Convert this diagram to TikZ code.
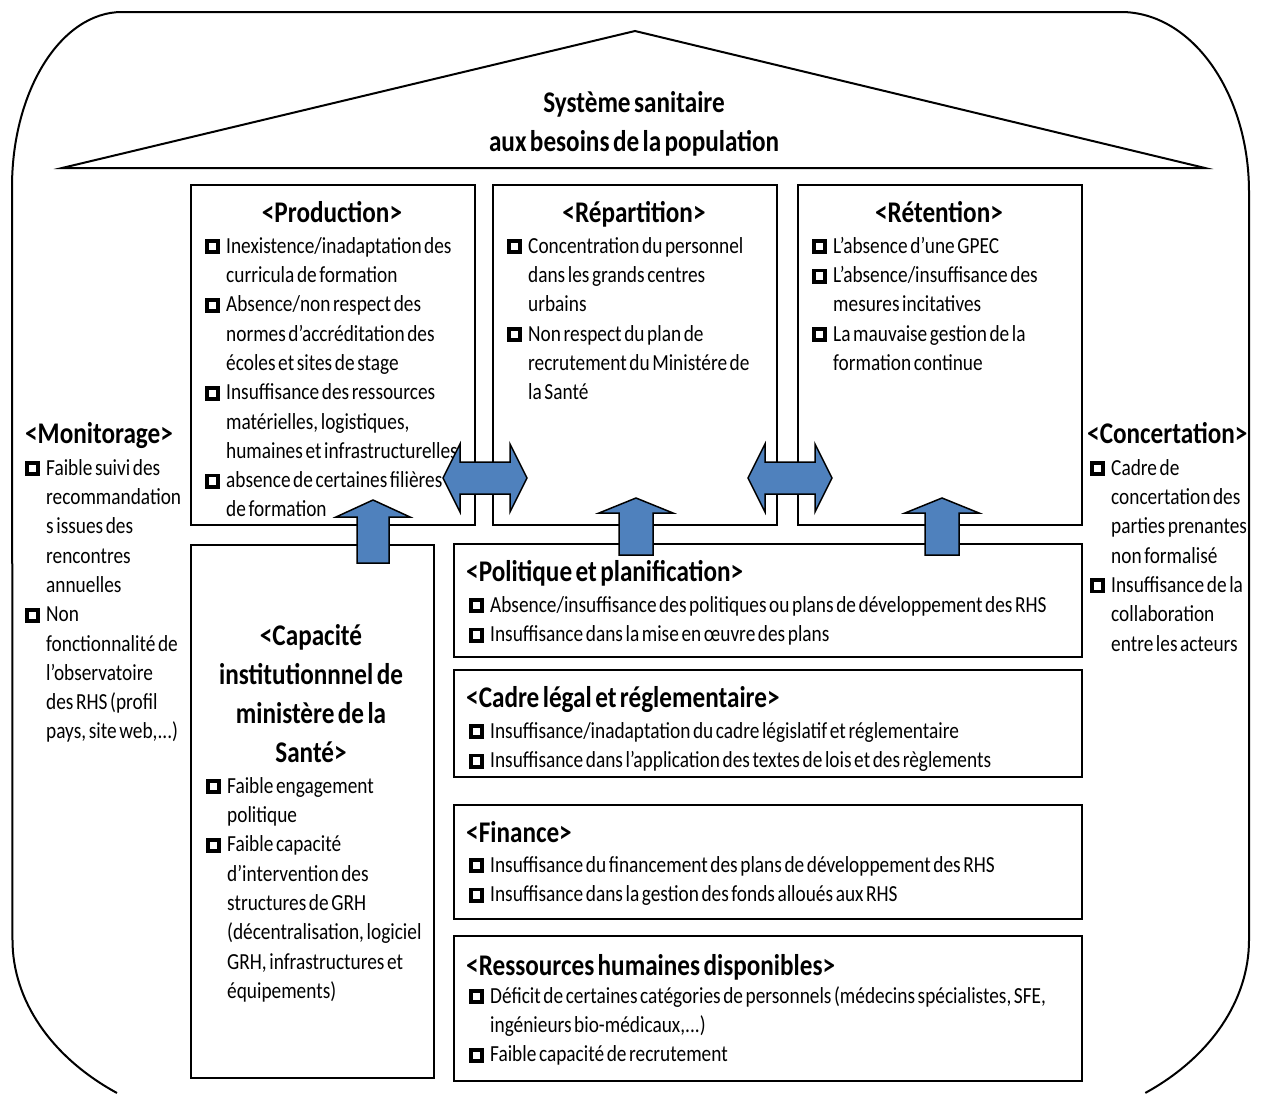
\documentclass[tikz,border=0pt]{standalone}
\usepackage{fontspec}
\setmainfont{Carlito}[FakeStretch=0.84, WordSpace=0.6]
\definecolor{arrowblue}{HTML}{4F81BD}
\newcommand\bodyfont{\fontsize{23}{29.3}\selectfont}
\newcommand\headfont{\bfseries\fontsize{30}{39}\selectfont}
\newcommand\cbx{\makebox[21pt][l]{\raisebox{-1pt}{\rlap{\rule{15pt}{15pt}}\hspace*{3.8pt}\raisebox{3.8pt}{\textcolor{white}{\rule{7.4pt}{7.4pt}}}}}}
\newcommand\ind{\hspace*{21pt}}
\newcommand\fst{\rule{0pt}{20pt}}
\newcommand\hst{\rule{0pt}{28pt}}
\begin{document}
\begin{tikzpicture}[x=1pt,y=-1pt,
  box/.style={draw, line width=1.8pt, fill=white, inner sep=0, anchor=north west},
  body/.style={inner sep=0, anchor=north west, align=left, font=\bodyfont},
  head/.style={inner sep=0, font=\headfont},
  barrow/.style={draw=black, line width=1.5pt, fill=arrowblue, line join=miter}]
\useasboundingbox (0,0) rectangle (1261,1093);
% outer frame
\draw[line width=2pt] (117,1093) arc[start angle=126.4, end angle=180, x radius=257, y radius=190]
  -- (12,187) arc[start angle=180, end angle=270, x radius=110, y radius=175]
  -- (1121,12) arc[start angle=270, end angle=360, x radius=128, y radius=180]
  -- (1249,940) arc[start angle=0, end angle=53.6, x radius=255, y radius=190];
% roof
\draw[line width=2pt, line join=miter] (62,168) -- (635,31) -- (1205,168) -- cycle;
\node[head, anchor=north, align=center] (roof) at (634,84.5) {\hst Système sanitaire\\aux besoins de la population};
% boxes
\node[box, minimum width=284, minimum height=340] (prod) at (190,184) {};
\node[box, minimum width=284, minimum height=340] (rep) at (492,184) {};
\node[box, minimum width=284, minimum height=340] (ret) at (797,184) {};
\node[box, minimum width=243, minimum height=533] (cap) at (190,544) {};
\node[box, minimum width=628, minimum height=113] (pol) at (453,543) {};
\node[box, minimum width=628, minimum height=107] (cad) at (453,669) {};
\node[box, minimum width=628, minimum height=114] (fin) at (453,804) {};
\node[box, minimum width=628, minimum height=145] (rh) at (453,935) {};
% Production
\node[head, anchor=base] (prodT) at (332,222) {<Production>};
\node[body] (prodB) at (205,233) {\fst\cbx Inexistence/inadaptation des\\
\ind curricula de formation\\
\cbx Absence/non respect des\\
\ind normes d’accréditation des\\
\ind écoles et sites de stage\\
\cbx Insuffisance des ressources\\
\ind matérielles, logistiques,\\
\ind humaines et infrastructurelles\\
\cbx absence de certaines filières\\
\ind de formation};
% Repartition
\node[head, anchor=base] (repT) at (634,222) {<Répartition>};
\node[body] (repB) at (507,233) {\fst\cbx Concentration du personnel\\
\ind dans les grands centres\\
\ind urbains\\
\cbx Non respect du plan de\\
\ind recrutement du Ministére de\\
\ind la Santé};
% Retention
\node[head, anchor=base] (retT) at (939,222) {<Rétention>};
\node[body] (retB) at (812,233) {\fst\cbx L’absence d’une GPEC\\
\cbx L’absence/insuffisance des\\
\ind mesures incitatives\\
\cbx La mauvaise gestion de la\\
\ind formation continue};
% Monitorage
\node[head, anchor=base west] (monT) at (25,443) {<Monitorage>};
\node[body] (monB) at (25,455) {\fst\cbx Faible suivi des\\
\ind recommandation\\
\ind s issues des\\
\ind rencontres\\
\ind annuelles\\
\cbx Non\\
\ind fonctionnalité de\\
\ind l’observatoire\\
\ind des RHS (profil\\
\ind pays, site web,...)};
% Concertation
\node[head, anchor=base west] (conT) at (1087,443) {<Concertation>};
\node[body] (conB) at (1090,455) {\fst\cbx Cadre de\\
\ind concertation des\\
\ind parties prenantes\\
\ind non formalisé\\
\cbx Insuffisance de la\\
\ind collaboration\\
\ind entre les acteurs};
% Capacite
\node[head, anchor=north, align=center] (capT) at (311,617) {\hst<Capacité\\institutionnnel de\\ministère de la\\Santé>};
\node[body] (capB) at (206,773) {\fst\cbx Faible engagement\\
\ind politique\\
\cbx Faible capacité\\
\ind d’intervention des\\
\ind structures de GRH\\
\ind (décentralisation, logiciel\\
\ind GRH, infrastructures et\\
\ind équipements)};
% Politique
\node[head, anchor=base west] (polT) at (466,581) {<Politique et planification>};
\node[body] (polB) at (469,592) {\fst\cbx Absence/insuffisance des politiques ou plans de développement des RHS\\
\cbx Insuffisance dans la mise en œuvre des plans};
% Cadre
\node[head, anchor=base west] (cadT) at (466,707) {<Cadre légal et réglementaire>};
\node[body] (cadB) at (469,718) {\fst\cbx Insuffisance/inadaptation du cadre législatif et réglementaire\\
\cbx Insuffisance dans l’application des textes de lois et des règlements};
% Finance
\node[head, anchor=base west] (finT) at (466,842) {<Finance>};
\node[body] (finB) at (469,852) {\fst\cbx Insuffisance du financement des plans de développement des RHS\\
\cbx Insuffisance dans la gestion des fonds alloués aux RHS};
% RH
\node[head, anchor=base west] (rhT) at (466,975) {<Ressources humaines disponibles>};
\node[body] (rhB) at (469,983) {\fst\cbx Déficit de certaines catégories de personnels (médecins spécialistes, SFE,\\
\ind ingénieurs bio-médicaux,...)\\
\cbx Faible capacité de recrutement};
% double arrows
\draw[barrow] (443,478) -- (460,444) -- (460,462) -- (510,462) -- (510,444) -- (527,478)
  -- (510,512) -- (510,494) -- (460,494) -- (460,512) -- cycle;
\draw[barrow] (748,478) -- (765,444) -- (765,462) -- (815,462) -- (815,444) -- (832,478)
  -- (815,512) -- (815,494) -- (765,494) -- (765,512) -- cycle;
% up arrows
\draw[barrow] (373,500) -- (410,517) -- (389,517) -- (389,563) -- (357,563) -- (357,517) -- (336,517) -- cycle;
\draw[barrow] (636,498) -- (673,513) -- (653,513) -- (653,555) -- (619,555) -- (619,513) -- (599,513) -- cycle;
\draw[barrow] (942,498) -- (979,513) -- (959,513) -- (959,555) -- (925,555) -- (925,513) -- (905,513) -- cycle;
\end{tikzpicture}
\end{document}
